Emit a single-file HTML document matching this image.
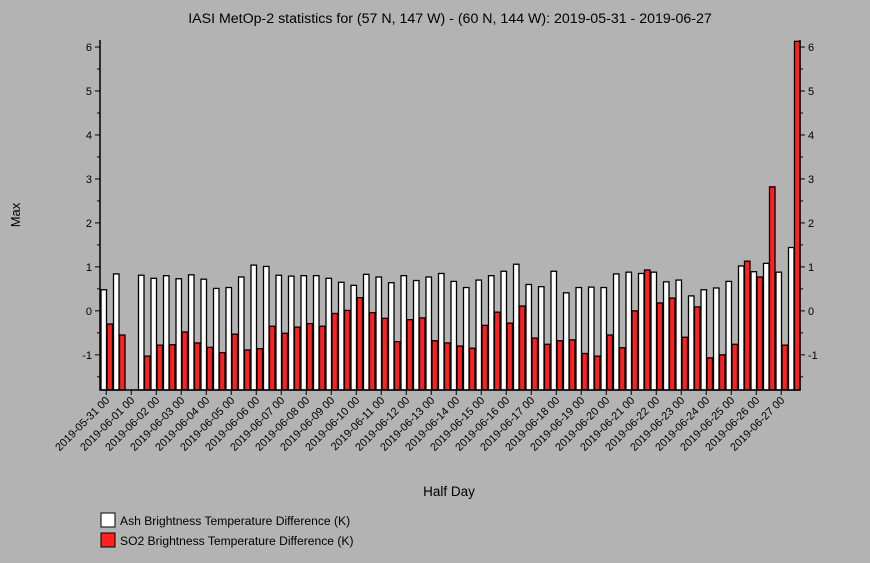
<!DOCTYPE html>
<html><head><meta charset="utf-8"><style>
body{margin:0;background:#b3b3b3;}
svg{display:block;font-family:"Liberation Sans",sans-serif;}
</style></head><body>
<svg id="chart" width="870" height="563" xmlns="http://www.w3.org/2000/svg">
<rect width="870" height="563" fill="#b3b3b3"/>
<text x="450" y="23" text-anchor="middle" font-size="14.2">IASI MetOp-2 statistics for (57 N, 147 W) - (60 N, 144 W): 2019-05-31 - 2019-06-27</text>
<text transform="translate(20,215) rotate(-90)" text-anchor="middle" font-size="13">Max</text>
<text x="449" y="496" text-anchor="middle" font-size="13.5">Half Day</text>
<g id="plot"></g>
<g>
<rect x="101" y="513" width="14" height="14" fill="#fff" stroke="#000"/>
<text x="120" y="525" font-size="12.1">Ash Brightness Temperature Difference (K)</text>
<rect x="101" y="533" width="14" height="14" fill="#ff2020" stroke="#000"/>
<text x="120" y="545" font-size="12.1">SO2 Brightness Temperature Difference (K)</text>
</g>
</svg>
<script>
const dayLabels=["2019-05-31 00","2019-06-01 00","2019-06-02 00","2019-06-03 00","2019-06-04 00","2019-06-05 00","2019-06-06 00","2019-06-07 00","2019-06-08 00","2019-06-09 00","2019-06-10 00","2019-06-11 00","2019-06-12 00","2019-06-13 00","2019-06-14 00","2019-06-15 00","2019-06-16 00","2019-06-17 00","2019-06-18 00","2019-06-19 00","2019-06-20 00","2019-06-21 00","2019-06-22 00","2019-06-23 00","2019-06-24 00","2019-06-25 00","2019-06-26 00","2019-06-27 00"];
const ashValues=[0.48,0.84,null,0.81,0.74,0.80,0.73,0.82,0.72,0.51,0.53,0.77,1.04,1.01,0.81,0.79,0.80,0.80,0.74,0.65,0.58,0.83,0.77,0.64,0.80,0.69,0.77,0.85,0.67,0.53,0.70,0.80,0.90,1.06,0.60,0.55,0.90,0.41,0.53,0.54,0.53,0.84,0.88,0.85,0.88,0.66,0.70,0.34,0.48,0.52,0.67,1.02,0.89,1.08,0.88,1.44];
const so2Values=[-0.30,-0.55,null,-1.03,-0.78,-0.77,-0.48,-0.73,-0.83,-0.95,-0.53,-0.89,-0.86,-0.35,-0.51,-0.37,-0.29,-0.35,-0.06,0.01,0.30,-0.04,-0.17,-0.70,-0.20,-0.16,-0.68,-0.73,-0.80,-0.85,-0.33,-0.03,-0.28,0.11,-0.62,-0.76,-0.68,-0.66,-0.97,-1.03,-0.55,-0.84,0.00,0.93,0.18,0.29,-0.60,0.09,-1.07,-1.00,-0.76,1.13,0.77,2.82,-0.78,6.13];
const yTicks=[-1,0,1,2,3,4,5,6];

const NS="http://www.w3.org/2000/svg";
const X0=100,X1=800,Y0=40,Y1=390,yMin=-1.8,yMax=6.16,nSlots=56;
const slotW=(X1-X0)/nSlots;
function yScale(v){return Y1-(v-yMin)/(yMax-yMin)*(Y1-Y0);}
function xSlot(i){return X0+i*slotW;}
const g=document.getElementById('plot');
function mk(tag,attrs){const e=document.createElementNS(NS,tag);for(const k in attrs)e.setAttribute(k,attrs[k]);g.appendChild(e);return e;}

for(let i=0;i<nSlots;i++){
  const a=ashValues[i];
  if(a!==null&&a!==undefined){
    const y=yScale(a);
    const r=mk('rect',{x:xSlot(i)+1,y:y,width:5.5,height:Y1-y,fill:'#fff',stroke:'#000','stroke-width':1.3});
    
    
  }
  const s=so2Values[i];
  if(s!==null&&s!==undefined){
    const y=Math.max(yScale(s),Y0);
    const r=mk('rect',{x:xSlot(i)+7,y:y,width:5.5,height:Y1-y,fill:'#ff2020',stroke:'#000','stroke-width':1.3});
    
    
  }
}
const ax=mk('path',{d:`M${X0},${Y0}V${Y1}H${X1}V${Y0}`,fill:'none',stroke:'#000','stroke-width':1.5});


for(let v=-1.5;v<=6.01;v+=0.5){
  const y=yScale(v),major=Math.abs(v-Math.round(v))<0.01,len=major?5:3;
  mk('line',{x1:X0-len,x2:X0,y1:y,y2:y,stroke:'#000'});
  mk('line',{x1:X1,x2:X1+len,y1:y,y2:y,stroke:'#000'});
}
yTicks.forEach(v=>{
  const y=yScale(v);
  const t=mk('text',{x:X0-8,y:y+4,'text-anchor':'end','font-size':11});t.textContent=v;
  
  
  const t2=mk('text',{x:X1+8,y:y+4,'text-anchor':'start','font-size':11});t2.textContent=v;
  
  
});
dayLabels.forEach((lab,d)=>{
  const x=xSlot(d*2)+slotW/2;
  mk('line',{x1:x,x2:x,y1:Y1,y2:Y1+5,stroke:'#000'});
  const t=mk('text',{x:0,y:0,'text-anchor':'end','font-size':11,transform:`translate(${x+4},${Y1+11}) rotate(-45)`});
  t.textContent=lab;
  
  
});
</script>
</body></html>
